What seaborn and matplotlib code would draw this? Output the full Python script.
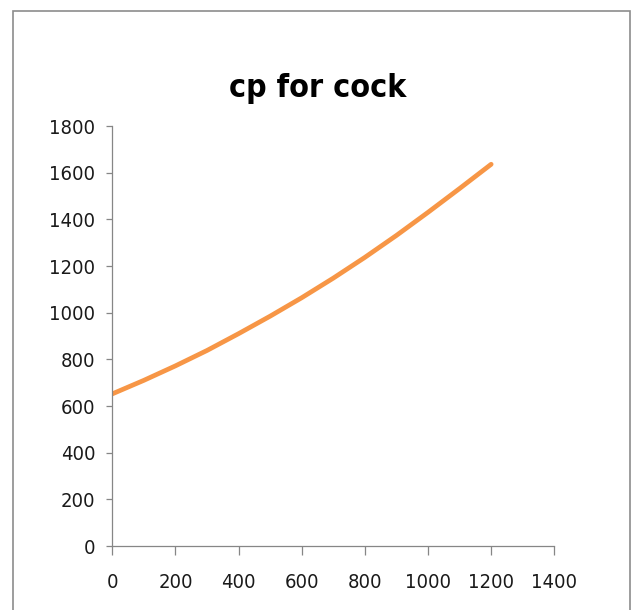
import matplotlib
matplotlib.use("Agg")
import matplotlib.pyplot as plt
from matplotlib.patches import Rectangle
import seaborn as sns
import pandas as pd

# Temperature (x) and cp values along the curve
temperature = [0, 100, 200, 300, 400, 500, 600, 700, 800, 900, 1000, 1100, 1200]
cp_values = [652, 710, 772, 838, 910, 985, 1064, 1148, 1237, 1331, 1430, 1532, 1636]

x_ticks = [0, 200, 400, 600, 800, 1000, 1200, 1400]
y_ticks = [0, 200, 400, 600, 800, 1000, 1200, 1400, 1600, 1800]
title_text = "cp for cock"

df = pd.DataFrame({"T": temperature, "cp": cp_values})

sns.set_theme(style="white")
plt.rcParams["font.family"] = ["DejaVu Sans"]
plt.rcParams["font.stretch"] = "condensed"

W, H = 632, 610
fig = plt.figure(figsize=(W / 100, H / 100), dpi=100)
fig.patch.set_facecolor("white")

# chart-area frame
frame = Rectangle((13, -10), 617, H - 11 + 10, transform=None, fill=False,
                  edgecolor="#8c8c8c", linewidth=1.2)
fig.patches.append(frame)

ax = fig.add_axes([112.3 / W, 64 / H, 442 / W, 420 / H])
sns.lineplot(data=df, x="T", y="cp", ax=ax, color="#F79646", linewidth=3.4,
             solid_capstyle="round")

ax.set_xlim(0, 1400)
ax.set_ylim(0, 1800)
ax.set_xticks(x_ticks)
ax.set_yticks(y_ticks)
ax.set_xlabel("")
ax.set_ylabel("")

for side in ["top", "right"]:
    ax.spines[side].set_visible(False)
for side in ["left", "bottom"]:
    ax.spines[side].set_color("#868686")
    ax.spines[side].set_linewidth(0.9)

ax.tick_params(axis="x", which="major", direction="out", length=6.5, width=0.9,
               color="#868686", pad=13, labelsize=14.5, labelcolor="#1a1a1a",
               bottom=True)
ax.tick_params(axis="y", which="major", direction="out", length=4.2, width=0.9,
               color="#868686", pad=8, labelsize=14.5, labelcolor="#1a1a1a",
               left=True)
ax.grid(False)

fig.text(318 / W, 1 - 97 / H, title_text, ha="center", va="baseline",
         fontsize=23, fontweight="bold", color="black")

fig.savefig("out.png", dpi=100, facecolor="white")
